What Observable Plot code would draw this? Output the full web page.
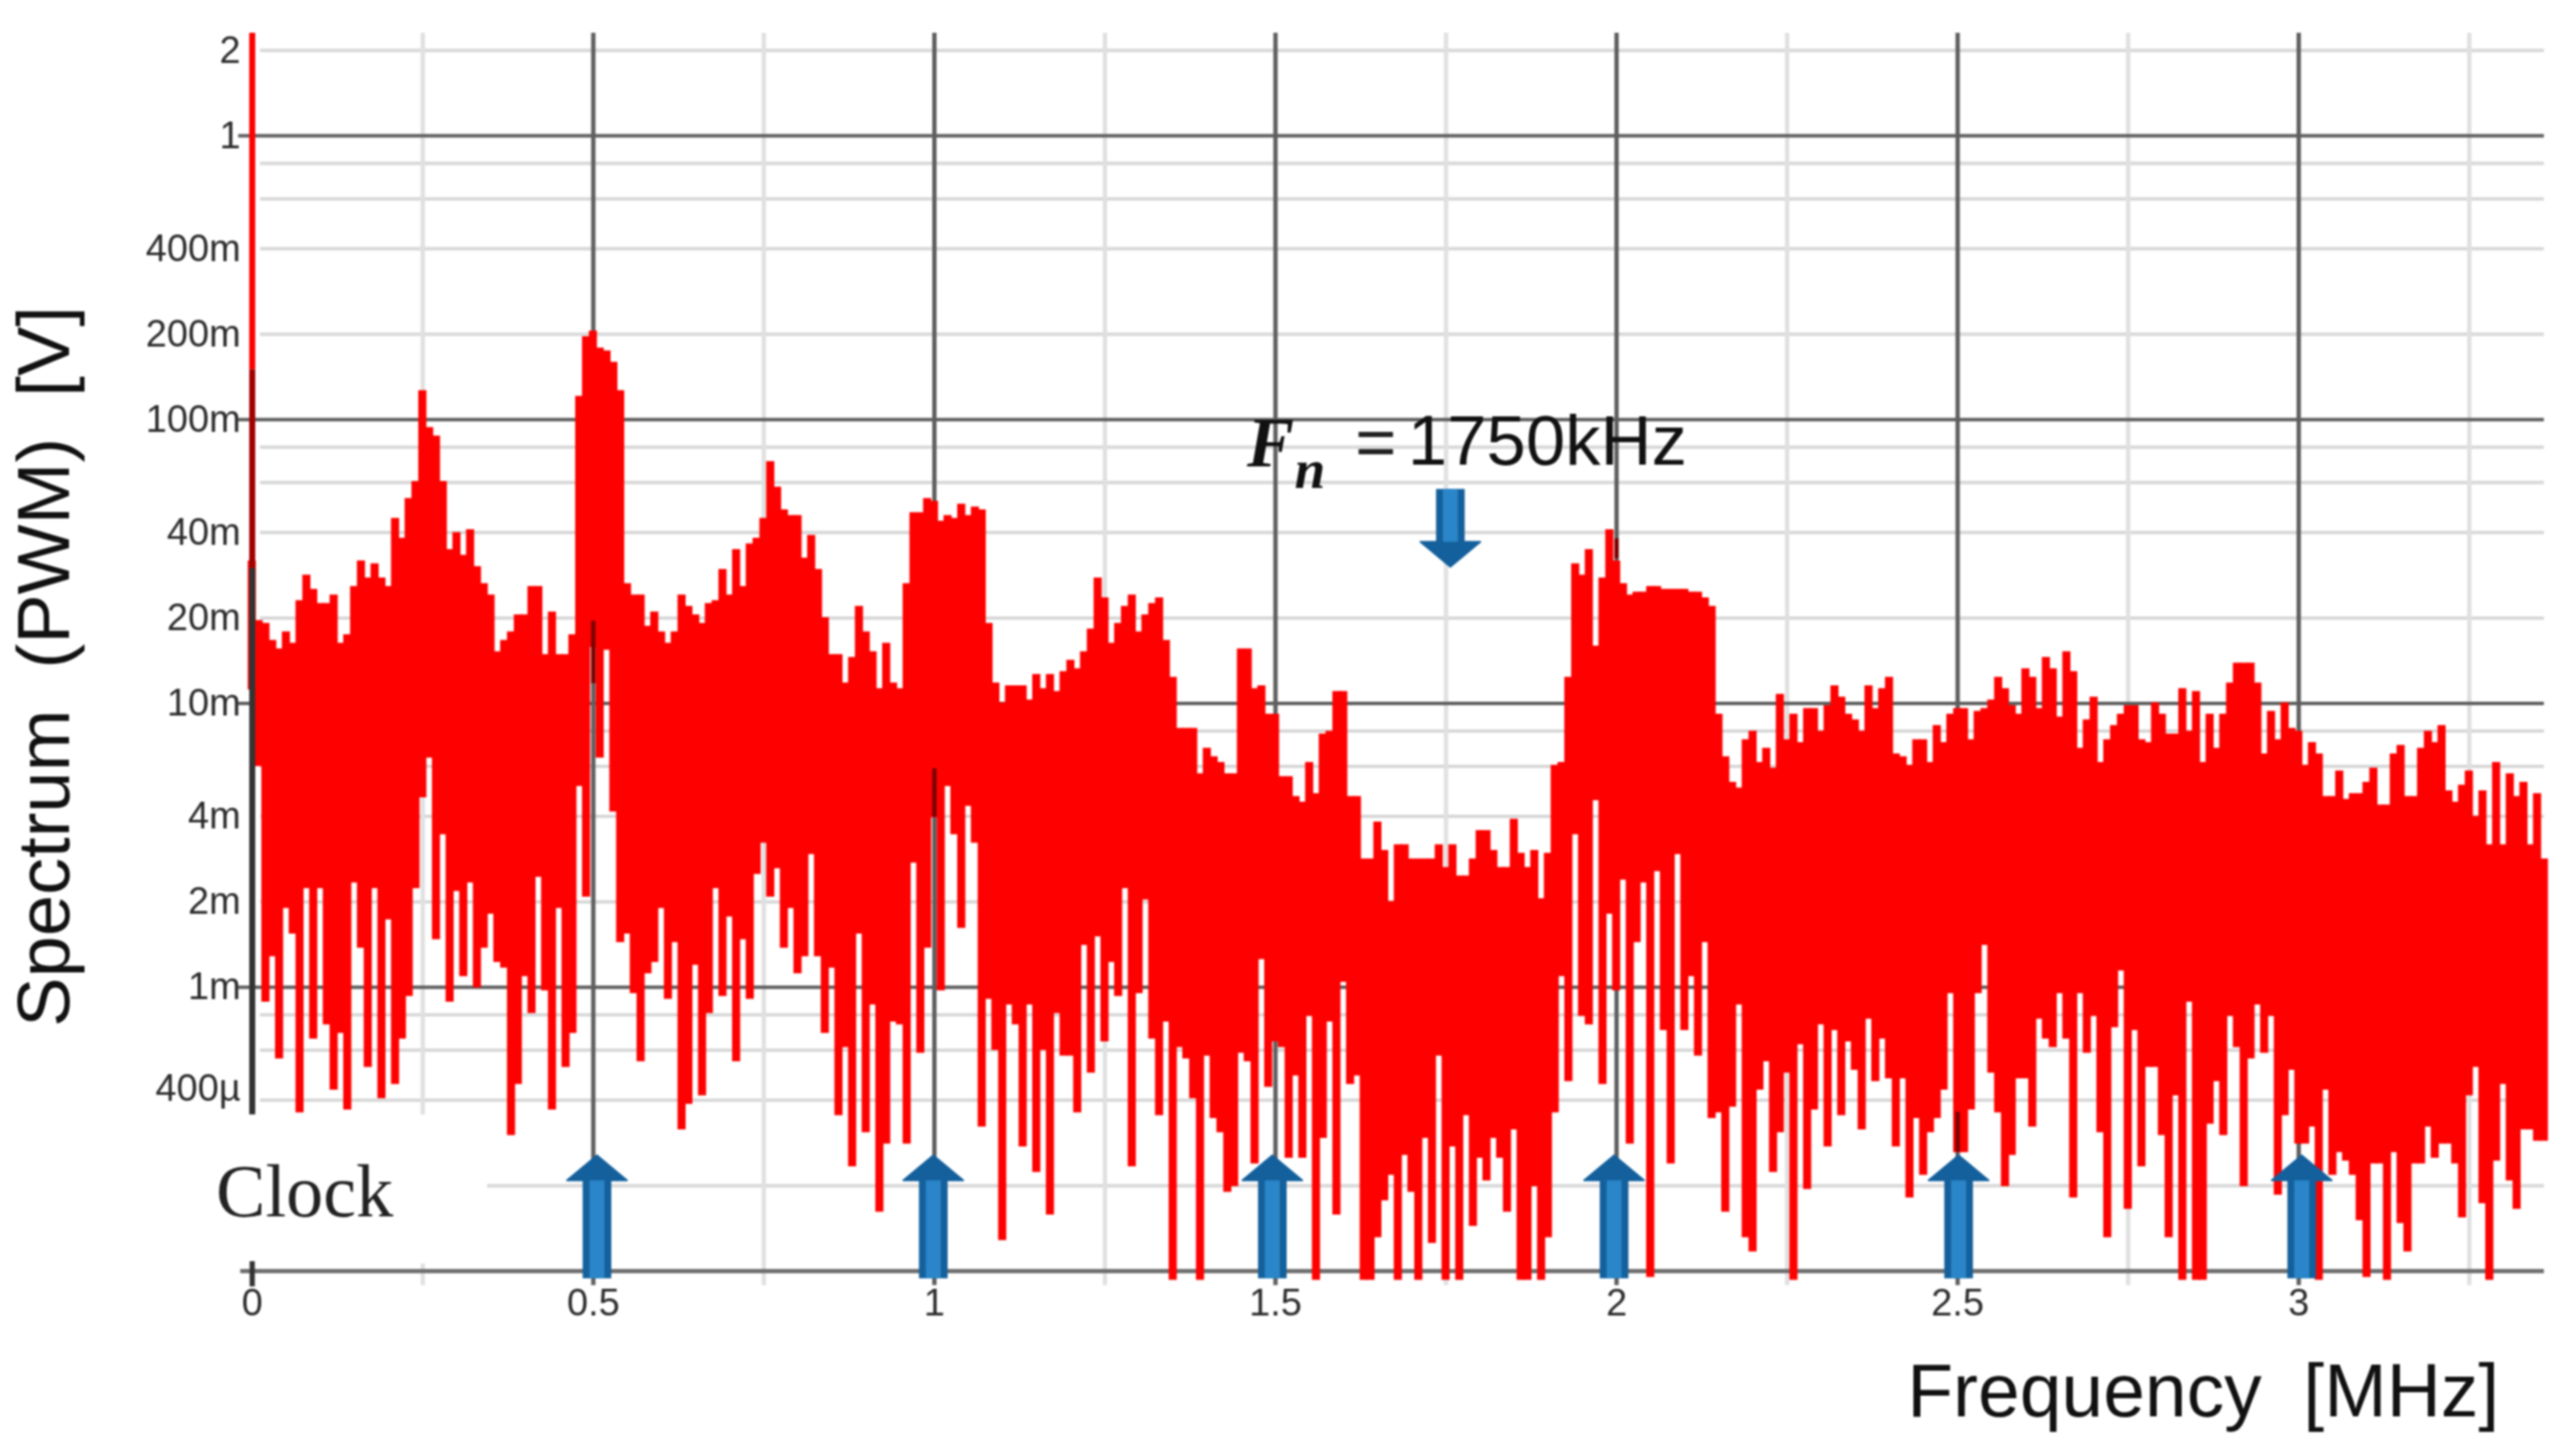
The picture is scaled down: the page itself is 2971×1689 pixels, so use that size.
<!DOCTYPE html>
<html>
<head>
<meta charset="utf-8">
<style>html,body{margin:0;padding:0;background:#fff;overflow:hidden}svg{display:block;filter:blur(0.8px)}</style>
<script src="https://cdn.jsdelivr.net/npm/d3@7"></script>
<script src="https://cdn.jsdelivr.net/npm/@observablehq/plot@0.6"></script>
</head>
<body>
<div id="chart"></div>
<script>
// Spectrum, one column per 0.01 MHz.
// Values are hundredths of a decade relative to 1 mV (100 = 10 mV, -100 = 100 µV).
const binMHz = 0.01;
const upperEnvelope = [
150,129,128,122,119,125,121,136,145,140,135,135,138,121,124,141,150,144,149,144,
141,165,158,172,178,210,197,194,178,154,160,152,161,148,142,138,118,122,125,131,
131,141,141,117,132,117,117,124,208,229,231,225,224,220,210,142,138,138,127,132,
125,121,125,138,134,131,128,135,136,147,138,154,141,156,158,165,185,176,168,166,
166,151,159,147,130,117,117,107,116,134,125,118,105,121,107,105,142,167,167,172,
171,164,166,165,170,166,169,168,128,107,100,106,106,106,101,110,105,110,104,111,
115,112,118,126,144,137,121,128,134,138,125,131,135,137,122,109,91,91,91,75,
84,81,79,75,75,119,119,105,106,96,96,74,74,67,65,79,68,89,90,104,
104,67,67,45,45,58,48,30,50,50,45,45,45,45,50,42,50,39,39,45,
55,55,48,42,42,59,47,42,48,31,47,78,79,109,149,145,154,120,144,161,
150,142,138,139,139,141,141,140,140,140,140,139,139,137,134,96,81,72,70,87,
90,79,84,77,103,87,96,86,98,98,90,99,106,102,96,94,90,106,98,105,
109,82,81,78,87,87,79,92,86,96,98,98,87,97,98,101,109,105,99,96,
112,109,98,116,112,95,118,111,84,94,102,79,87,92,96,99,99,87,86,100,
96,89,89,105,90,104,79,96,84,96,107,114,114,114,107,82,97,87,100,91,
90,78,86,82,67,67,76,66,68,68,72,77,64,64,82,85,67,67,84,90,
86,92,69,65,71,76,60,69,50,79,50,75,67,72,50,68,45];
const lowerEnvelope = [
105,78,-5,11,-25,28,19,-44,35,-18,35,-13,-36,-16,-43,37,14,-28,35,-39,
24,-34,-18,-3,35,67,81,17,54,-5,34,4,37,0,14,26,9,7,-52,-34,
4,-9,39,-1,-43,28,-28,-16,71,32,120,81,119,62,16,19,-2,-26,5,9,
28,-4,16,-50,-41,8,-38,-9,35,-3,25,-26,17,-4,40,51,32,42,14,28,
5,11,47,11,-16,7,-45,-21,-63,19,-51,-6,-79,-55,-12,-13,-55,44,-23,14,
60,-1,71,54,21,64,51,-49,-4,-22,-89,-6,-13,-56,-6,-65,-22,-80,-9,-24,
-24,-44,15,-30,18,-19,9,-3,35,-63,-2,31,-18,-45,-12,-103,-21,-25,-39,-103,
-24,-46,-51,-72,-70,-23,-26,-62,10,-35,-19,-21,-60,-31,-60,-10,-103,-53,-12,-80,
2,-34,-31,-103,-103,-88,-75,-66,-103,-59,-72,-103,-53,-90,-24,-103,-56,-103,-45,-84,
-60,-68,-53,-60,-79,-50,-103,-103,-70,-103,-88,-44,4,-33,54,-10,-13,66,-34,26,
-1,38,-55,16,37,-102,41,-15,-62,47,-15,4,-24,16,-46,-44,-79,-42,-6,-88,
-93,-36,-26,-65,-51,-30,-103,-20,-71,-43,-13,-56,-15,-45,-19,-29,-50,-11,-33,-18,
-32,-56,-32,-74,-46,-66,-51,-46,-36,-2,-58,-58,-43,-2,15,-30,-44,-70,-59,-32,
-32,-49,-11,-18,-21,-2,-18,-74,-2,-23,-10,-51,-88,-14,6,-78,-15,-63,-28,-28,
-52,-88,-38,-103,-5,-103,-103,-48,-33,-52,-10,-21,-70,-25,-6,-23,-10,-73,-45,-29,
-55,-55,-49,-103,-36,-66,-58,-61,-66,-82,-102,-62,-62,-103,-58,-83,-93,-62,-62,-49,
-60,-55,-55,-62,-81,-38,-28,-76,-103,-61,-34,-68,-78,-50,-50,-54,-54];
// Dark-red stretches where the black grid shows through the trace: MHz, from, to (same units)
const overlayFreq = [0.5, 1, 2, 2.5];
const overlayFrom = [107, 60, 151, -58];
const overlayTo = [129, 77, 158, -44];

// The "400µ" label sits a little above its own grid line in the reference.
const yTicks = [2, 1, 0.4, 0.2, 0.1, 0.04, 0.02, 0.01, 0.004, 0.002, 0.001, 0.00044];
const yTickLabels = ["2", "1", "400m", "200m", "100m", "40m", "20m", "10m", "4m", "2m", "1m", "400µ"];
const xTicks = [0, 0.5, 1, 1.5, 2, 2.5, 3];
const xMinor = [0.25, 0.75, 1.25, 1.75, 2.25, 2.75, 3.25];
const yMajor = [1, 0.1, 0.01, 0.001];
const yMinor = [2, 0.8, 0.6, 0.4, 0.2, 0.08, 0.06, 0.04, 0.02, 0.008, 0.006, 0.004, 0.002, 0.0008, 0.0006, 0.0004, 0.0002];
const clockFreq = [0.506, 0.999, 1.496, 1.997, 2.502, 3.005];
const notchFreq = 1.757;

const toVolts = L => 1e-3 * 10 ** (L / 100);
const bins = upperEnvelope.map((u, i) => ({
  x1: (i - 0.5) * binMHz, x2: (i + 0.5) * binMHz,
  hi: toVolts(u), lo: toVolts(lowerEnvelope[i])
}));
const overlays = overlayFreq.map((f, i) => ({f, y1: toVolts(overlayFrom[i]), y2: toVolts(overlayTo[i])}));
const yLabelRows = yTicks.map((v, i) => ({v, label: yTickLabels[i]}));

// up arrows (tip, head base, tail in volts) and the single down arrow
const upArrows = clockFreq.map(f => ({f, tip: 2.55e-4, base: 2.08e-4, tail: 9.4e-5}));
const allArrows = [...upArrows, {f: notchFreq, tip: 0.0302, base: 0.037, tail: 0.0568}];
const heads = allArrows.flatMap(a => [
  {z: a.f, x: a.f - 0.044, y1: a.base, y2: a.base},
  {z: a.f, x: a.f, y1: a.base, y2: a.tip},
  {z: a.f, x: a.f + 0.044, y1: a.base, y2: a.base}
]);

const sans = "Liberation Sans, Arial, sans-serif";
const serif = "Liberation Serif, Times New Roman, serif";
const grid = {x1: 0.012, x2: 3.36};

const chart = Plot.plot({
  width: 2971, height: 1689,
  marginLeft: 292, marginRight: 21, marginTop: 38, marginBottom: 215,
  style: {fontFamily: sans, background: "#fff", color: "#2b2b2b"},
  x: {domain: [0, 3.36]},
  y: {type: "log", domain: [1e-4, 2.3], axis: null},
  marks: [
    // grid
    Plot.ruleY(yMinor, {...grid, stroke: "#d8d8d8", strokeWidth: 4}),
    Plot.ruleX(xMinor, {y1: 8.9e-5, y2: 2.3, stroke: "#e0e0e0", strokeWidth: 5}),
    Plot.ruleX(xTicks.slice(1), {y1: 8.9e-5, y2: 2.3, stroke: "#5e5e5e", strokeWidth: 5}),
    Plot.ruleY(yMajor, {x1: -0.02, x2: 3.36, stroke: "#5e5e5e", strokeWidth: 4}),
    Plot.ruleY([1e-4], {x1: -0.017, x2: 3.36, stroke: "#707070", strokeWidth: 5}),
    // the white box behind "Clock" hides the grid there
    Plot.rect([0], {x1: -0.06, x2: 0.345, y1: 1.06e-4, y2: 3.55e-4, fill: "white"}),
    Plot.ruleX([0], {y1: 8.8e-5, y2: 1.08e-4, stroke: "#333", strokeWidth: 6}),
    // trace
    Plot.rect(bins, {x1: "x1", x2: "x2", y1: "lo", y2: "hi", fill: "#ff0000", stroke: "#ff0000", strokeWidth: 1.5}),
    Plot.ruleX([0], {y1: 0.15, y2: 2.3, stroke: "#ff0000", strokeWidth: 7}),
    Plot.ruleX([0], {y1: 3.55e-4, y2: 0.03, stroke: "#333", strokeWidth: 7}),
    Plot.ruleX([0], {y1: 0.03, y2: 0.15, stroke: "#a30000", strokeWidth: 7}),
    Plot.ruleX(overlays, {x: "f", y1: "y1", y2: "y2", stroke: "#7a0000", strokeWidth: 5}),
    // arrows
    Plot.areaY(heads, {x: "x", y1: "y1", y2: "y2", z: "z", fill: "#14609c", stroke: "#14609c", strokeWidth: 2, curve: "linear"}),
    Plot.rect(allArrows, {x1: d => d.f - 0.021, x2: d => d.f + 0.021, y1: "base", y2: "tail", fill: "#14609c"}),
    Plot.rect(allArrows, {x1: d => d.f - 0.011, x2: d => d.f + 0.011, y1: "base", y2: "tail", fill: "#2a86c8"}),
    // axes
    Plot.text(yLabelRows, {x: -0.017, y: "v", text: "label", textAnchor: "end", fontSize: 44, fill: "#2b2b2b", fontFamily: sans}),
    Plot.axisX({ticks: xTicks, tickFormat: d => String(d), tickSize: 0, tickPadding: 20, fontSize: 44, label: null}),
    // titles and annotations
    Plot.text(["Spectrum\u00a0 (PWM)\u00a0 [V]"], {x: -0.303, y: 0.0135, rotate: -90, fontSize: 86, fill: "#111", fontFamily: sans}),
    Plot.text(["Frequency\u00a0 [MHz]"], {x: 2.86, y: 3.75e-5, fontSize: 87, fill: "#111", fontFamily: sans}),
    Plot.text(["Clock"], {x: -0.053, y: 1.89e-4, textAnchor: "start", fontSize: 86, fill: "#222", fontFamily: serif}),
    Plot.text(["F"], {x: 1.458, y: 0.0822, textAnchor: "start", fontSize: 82, fill: "#111", fontFamily: serif, fontWeight: "bold", fontStyle: "italic"}),
    Plot.text(["n"], {x: 1.528, y: 0.0665, textAnchor: "start", fontSize: 64, fill: "#111", fontFamily: serif, fontWeight: "bold", fontStyle: "italic"}),
    Plot.text(["="], {x: 1.647, y: 0.0822, fontSize: 82, fill: "#222", fontFamily: sans}),
    Plot.text(["1750kHz"], {x: 1.694, y: 0.0834, textAnchor: "start", fontSize: 82, fill: "#111", fontFamily: sans})
  ]
});
document.getElementById("chart").append(chart);
</script>
</body>
</html>
